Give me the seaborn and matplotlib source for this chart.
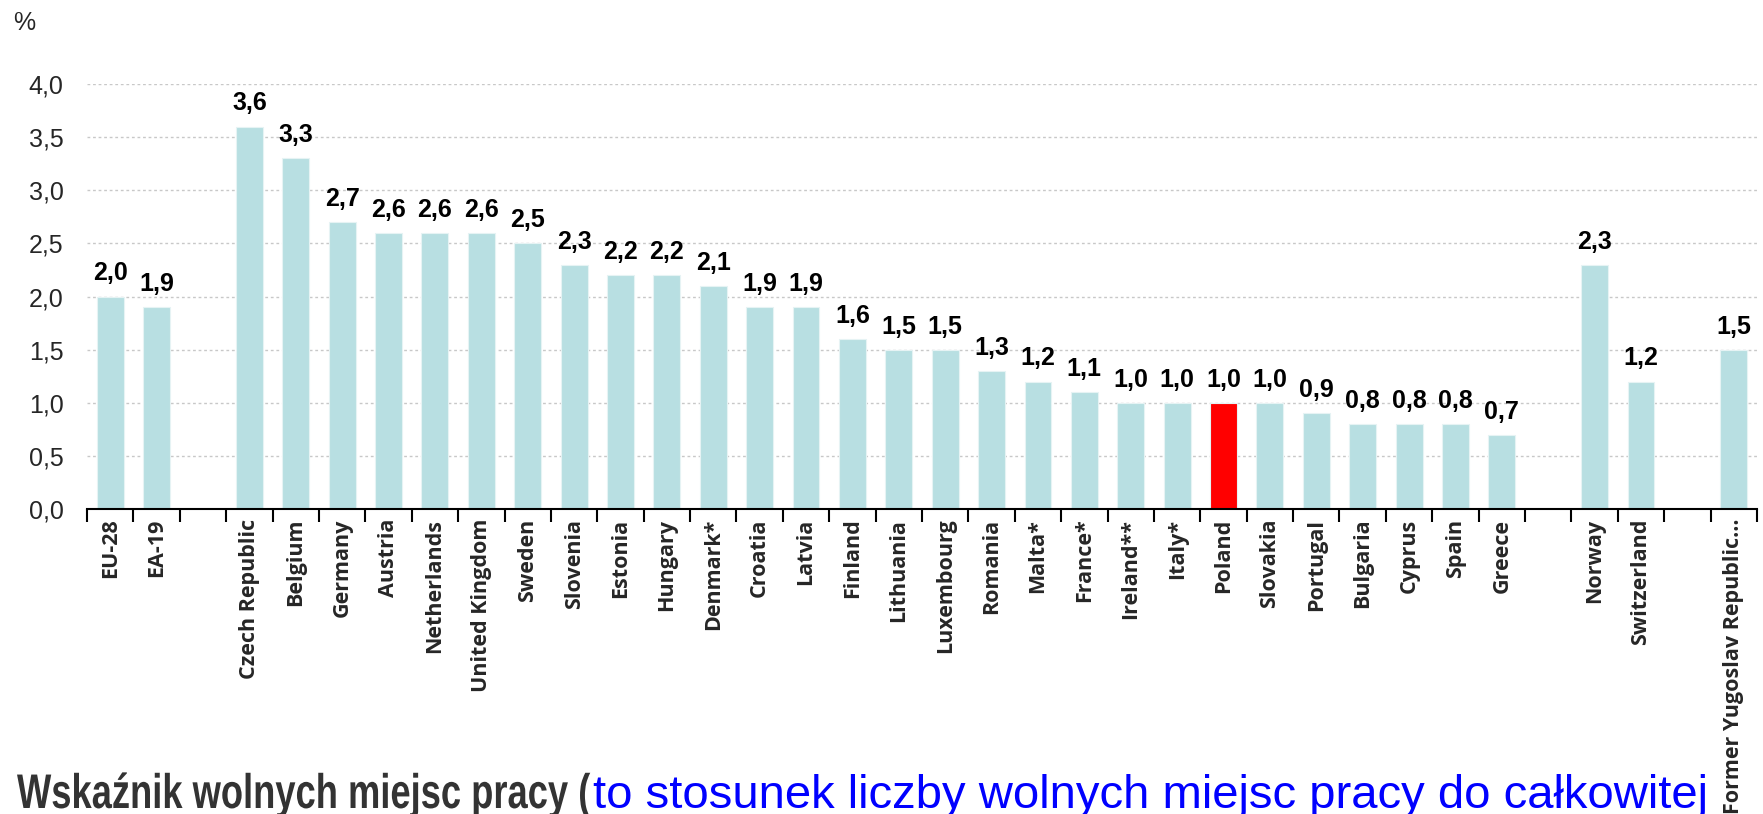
import numpy as np
import pandas as pd
import matplotlib.pyplot as plt
import seaborn as sns
from matplotlib.ticker import FixedLocator
from matplotlib.patheffects import AbstractPathEffect
from matplotlib.transforms import Affine2D

# data
countries = ["EU-28", "EA-19",
             "Czech Republic", "Belgium", "Germany", "Austria", "Netherlands",
             "United Kingdom", "Sweden", "Slovenia", "Estonia", "Hungary",
             "Denmark*", "Croatia", "Latvia", "Finland", "Lithuania",
             "Luxembourg", "Romania", "Malta*", "France*", "Ireland**", "Italy*",
             "Poland", "Slovakia", "Portugal", "Bulgaria", "Cyprus", "Spain",
             "Greece",
             "Norway", "Switzerland",
             "Former Yugoslav Republic..."]
rates = [2.0, 1.9,
         3.6, 3.3, 2.7, 2.6, 2.6, 2.6, 2.5, 2.3, 2.2, 2.2, 2.1, 1.9, 1.9, 1.6,
         1.5, 1.5, 1.3, 1.2, 1.1, 1.0, 1.0, 1.0, 1.0, 0.9, 0.8, 0.8, 0.8, 0.7,
         2.3, 1.2,
         1.5]
highlight = "Poland"

# empty slots between the groups
order = countries[:2] + [""] + countries[2:30] + [" "] + countries[30:32] + ["  "] + countries[32:]

df = pd.DataFrame({"label": countries, "rate": rates})
palette = {c: ("#ff0000" if c == highlight else "#b8dfe2") for c in countries}


class Squeeze(AbstractPathEffect):
    """narrow the glyphs horizontally around x0 (display px)"""
    def __init__(self, sx, x0):
        super().__init__()
        self.sx, self.x0 = sx, x0

    def draw_path(self, renderer, gc, tpath, affine, rgbFace=None):
        aff = affine + Affine2D().translate(-self.x0, 0).scale(self.sx, 1).translate(self.x0, 0)
        renderer.draw_path(gc, tpath, aff, rgbFace)


sns.set_style("white")
plt.rcParams['font.family'] = ['Liberation Sans', 'DejaVu Sans']

W, H = 1763, 814
fig = plt.figure(figsize=(W / 100, H / 100), dpi=100)
ax = fig.add_axes([87 / W, 1 - 509 / H, (1757 - 87) / W, (509 - 84) / H])

sns.barplot(data=df, x="label", y="rate", hue="label", order=order,
            palette=palette, legend=False, width=0.58, saturation=1,
            edgecolor="#e6f3f4", linewidth=0.8, ax=ax)

# value labels with decimal comma
for cont in ax.containers:
    vals = cont.datavalues
    labs = [f"{v:.1f}".replace(".", ",") if not np.isnan(v) else "" for v in vals]
    ax.bar_label(cont, labels=labs, padding=8, fontsize=18, fontweight="bold",
                 color="black", clip_on=False)

ax.set_ylim(0, 4)
ax.set_xlim(-0.5, len(order) - 0.5)
yt = np.arange(0, 4.01, 0.5)
ax.set_yticks(yt)
ax.set_yticklabels([f"{v:.1f}".replace(".", ",") for v in yt], fontsize=18)
ax.yaxis.grid(True, linestyle=(0, (2, 2)), color="#c8c8c8", linewidth=1)
ax.set_axisbelow(True)
ax.set_xlabel("")
ax.set_ylabel("")

for s in ["top", "right", "left"]:
    ax.spines[s].set_visible(False)
ax.spines["bottom"].set_color("black")
ax.spines["bottom"].set_linewidth(1.5)

# tick marks between the categories
ax.xaxis.set_minor_locator(FixedLocator(np.arange(-0.5, len(order), 1.0)))
ax.tick_params(axis="x", which="minor", length=9, width=1.5, color="black",
               direction="out", bottom=True)
ax.tick_params(axis="x", which="major", length=0, pad=7)
ax.tick_params(axis="y", length=0, pad=17)
ax.set_xticks(range(len(order)))
ax.set_xticklabels(order, rotation=90, fontsize=15.5, fontweight="bold",
                   family=["Open Sans", "DejaVu Sans"], va="top")

fig.text(13 / W, 1 - 30 / H, "%", fontsize=18, va="baseline")

# bottom caption, cut by the image edge
base_y = 1 - 808 / H
t1 = fig.text(17 / W, base_y, "Wskaźnik wolnych miejsc pracy (",
              fontsize=35, fontweight="bold", color="#333333", va="baseline")
fig.canvas.draw()
w1 = t1.get_window_extent().width
t1.set_path_effects([Squeeze(573 / w1, 17)])
fig.text(593 / W, base_y, "to stosunek liczby wolnych miejsc pracy do całkowitej",
         fontsize=34, color="#0000ff", va="baseline")

fig.savefig("out.png", dpi=100)
